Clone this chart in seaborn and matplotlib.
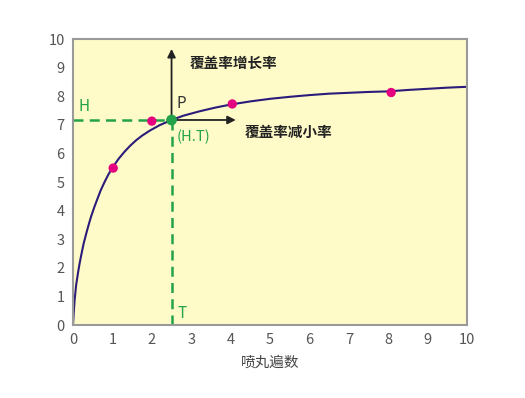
import matplotlib
matplotlib.use('Agg')
import matplotlib.pyplot as plt
import seaborn as sns
import pandas as pd

# curve
curve_x = [0, 0.01, 0.02, 0.04, 0.08, 0.13, 0.17, 0.21, 0.27, 0.34, 0.4, 0.46, 0.54, 0.63, 0.7,
           0.8, 0.9, 1.0, 1.15, 1.3, 1.45, 1.6, 1.75, 1.95, 2.2, 2.5, 2.8, 3.2, 3.6, 4.0, 4.5,
           5.0, 5.5, 6.0, 6.5, 7.0, 7.5, 8.0, 8.5, 9.0, 9.5, 10.0]
curve_y = [0, 0.22, 0.45, 0.85, 1.4, 1.85, 2.17, 2.45, 2.85, 3.22, 3.52, 3.8, 4.12, 4.45, 4.7,
           5.0, 5.27, 5.5, 5.8, 6.05, 6.27, 6.46, 6.62, 6.8, 6.99, 7.17, 7.32, 7.47, 7.6, 7.71, 7.82,
           7.91, 7.98, 8.04, 8.09, 8.12, 8.15, 8.17, 8.22, 8.26, 8.3, 8.33]

# measured points
pts_x = [1.02, 2.0, 4.04, 8.07]
pts_y = [5.49, 7.13, 7.73, 8.13]

# point P (H, T)
p_x = 2.5
p_y = 7.17

ticks = list(range(0, 11))

sns.set_style('white')
plt.rcParams['font.family'] = ['Noto Sans CJK SC', 'DejaVu Sans']

fig = plt.figure(figsize=(5.25, 3.98), dpi=100)
ax = fig.add_axes([0.139, 0.183, 0.751, 0.719])
ax.set_facecolor('#fffbc8')

df = pd.DataFrame({'x': curve_x, 'y': curve_y})
sns.lineplot(data=df, x='x', y='y', ax=ax, color='#2b1b7a', linewidth=1.5, sort=False)

green = '#23a24a'
ax.plot([0, p_x], [p_y, p_y], color=green, linestyle='--', linewidth=1.8, dashes=(4, 2.5))
ax.plot([p_x, p_x], [0, p_y], color=green, linestyle='--', linewidth=1.8, dashes=(4, 2.5))

sns.scatterplot(x=pts_x, y=pts_y, ax=ax, color='#e5007f', s=45, edgecolor='none', zorder=5)

# arrows from P
ax.annotate('', xy=(p_x, 9.75), xytext=(p_x, p_y),
            arrowprops=dict(arrowstyle='-|>', color='#222222', lw=1.3, mutation_scale=12))
ax.annotate('', xy=(4.2, p_y), xytext=(p_x, p_y),
            arrowprops=dict(arrowstyle='-|>', color='#222222', lw=1.3, mutation_scale=12))

ax.scatter([p_x], [p_y], color=green, s=60, zorder=6, edgecolor='none')

ax.text(0.15, 7.35, 'H', color=green, fontsize=11, ha='left', va='bottom')
ax.text(2.65, 0.1, 'T', color=green, fontsize=11, ha='left', va='bottom')
ax.text(2.62, 7.45, 'P', color='#333333', fontsize=11, ha='left', va='bottom')
ax.text(2.62, 6.85, '(H.T)', color=green, fontsize=10.5, ha='left', va='top')
ax.text(2.97, 9.15, '覆盖率增长率', color='#222222', fontsize=10.5, fontweight='bold', ha='left', va='center')
ax.text(4.35, 6.75, '覆盖率减小率', color='#222222', fontsize=10.5, fontweight='bold', ha='left', va='center')

ax.set_xlim(0, 10)
ax.set_ylim(0, 10)
ax.set_xticks(ticks)
ax.set_yticks(ticks)
ax.tick_params(axis='both', colors='#555555', labelsize=10.5, length=0, pad=6)
ax.set_xlabel('喷丸遍数', color='#444444', fontsize=10.5, labelpad=6)
ax.set_ylabel('')

for sp in ax.spines.values():
    sp.set_color('#9a9a9a')
    sp.set_linewidth(1.5)

fig.savefig('out.png', dpi=100, facecolor='white')
